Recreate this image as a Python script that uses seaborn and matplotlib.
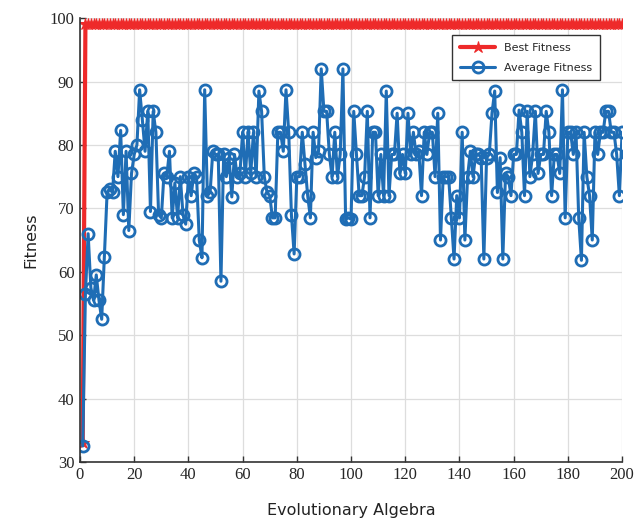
import numpy as np
import pandas as pd
import matplotlib
matplotlib.use("Agg")
import matplotlib.pyplot as plt
import seaborn as sns

generations = list(range(1, 201))

avg_fitness = [
    32.5, 56.5, 66, 57.5, 55.5, 59.5, 55.5, 52.5, 62.3, 72.5,
    73, 72.5, 79, 75, 82.3, 69, 79, 66.5, 75.5, 78.5,
    80, 88.7, 84, 79, 85.3, 69.5, 85.3, 82, 69, 68.5,
    75.5, 75, 79, 68.5, 74, 68.5, 75, 69, 67.5, 75,
    72, 75.5, 75, 65, 62.2, 88.7, 72, 72.5, 79, 78.5,
    78.5, 58.5, 78.5, 75, 78, 71.8, 78.5, 75, 75.5, 82,
    75, 82, 75.5, 82, 75, 88.5, 85.3, 75, 72.5, 72,
    68.5, 68.5, 82, 82, 79, 88.7, 82, 69, 62.8, 75,
    75, 82, 77, 72, 68.5, 82, 78, 79, 92, 85.3,
    85.3, 78.5, 75, 82, 75, 78.5, 92, 68.3, 68.5, 68.3,
    85.3, 78.5, 72, 72, 75, 85.3, 68.5, 82, 82, 72,
    78.5, 72, 88.5, 72, 78.5, 78.5, 85, 75.5, 78.5, 75.5,
    85, 78.5, 82, 78.5, 79, 72, 82, 78.5, 82, 82,
    75, 85, 65, 75, 75, 75, 68.5, 62, 72, 68.5,
    82, 65, 75, 79, 75, 78.5, 78.5, 78, 62, 78,
    78.5, 85, 88.5, 72.5, 78, 62, 75.5, 75, 72, 78.5,
    78.5, 85.5, 82, 72, 85.3, 75, 78.5, 85.3, 75.5, 78.5,
    78.5, 85.3, 82, 72, 78.5, 78.5, 75.5, 88.7, 68.5, 82,
    82, 78.5, 82, 68.5, 61.8, 82, 75, 72, 65, 82,
    78.5, 82, 82, 85.3, 85.3, 82, 82, 78.5, 72, 82,
]

best_fitness = [33.0] + [99.1] * 199

x_ticks = [0, 20, 40, 60, 80, 100, 120, 140, 160, 180, 200]
y_ticks = [30, 40, 50, 60, 70, 80, 90, 100]

df = pd.DataFrame({"gen": generations, "best": best_fitness, "avg": avg_fitness})

sns.set_theme(style="whitegrid")
plt.rcParams["font.family"] = ["DejaVu Sans"]

fig = plt.figure(figsize=(6.4, 5.19), dpi=100)
ax = fig.add_axes([0.125, 0.110, 0.847, 0.855])

red = "#ee2a2a"
blue = "#1f6db5"

sns.lineplot(data=df, x="gen", y="best", ax=ax, color=red, linewidth=3,
             marker="*", markersize=9, markerfacecolor=red, markeredgecolor=red,
             label="Best Fitness")
sns.lineplot(data=df, x="gen", y="avg", ax=ax, color=blue, linewidth=2.2,
             marker="o", markersize=8, markerfacecolor="none", markeredgecolor=blue,
             markeredgewidth=2.0, label="Average Fitness")

ax.set_xlim(0, 200)
ax.set_ylim(30, 100)
ax.set_xticks(x_ticks)
ax.set_yticks(y_ticks)
ax.set_xticklabels([str(t) for t in x_ticks], fontfamily="Liberation Serif", fontsize=12)
ax.set_yticklabels([str(t) for t in y_ticks], fontfamily="Liberation Serif", fontsize=12)
ax.tick_params(axis="both", direction="in", length=4, width=1, color="#333333",
               bottom=True, left=True, pad=4)
ax.grid(True, color="#dddddd", linewidth=0.9)
ax.set_facecolor("white")

for side in ["top", "right"]:
    ax.spines[side].set_visible(False)
for side in ["left", "bottom"]:
    ax.spines[side].set_color("#333333")
    ax.spines[side].set_linewidth(1.2)

ax.set_xlabel("Evolutionary Algebra", fontsize=11.5, labelpad=14, color="#222222")
ax.set_ylabel("Fitness", fontsize=11.5, labelpad=8, color="#222222")

leg = ax.legend(loc="upper right", bbox_to_anchor=(0.97, 0.975), fontsize=8,
                frameon=True, fancybox=False, framealpha=1, handlelength=3.2,
                borderpad=0.7, labelspacing=0.9)
leg.get_frame().set_edgecolor("#333333")
leg.get_frame().set_linewidth(1.0)

fig.savefig("out.png", dpi=100, facecolor="white")
